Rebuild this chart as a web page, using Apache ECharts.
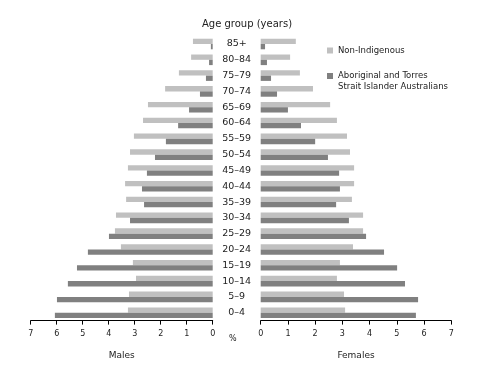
<!DOCTYPE html>
<html>
<head>
<meta charset="utf-8">
<script src="https://cdn.jsdelivr.net/npm/echarts@6/dist/echarts.min.js"></script>
<style>html,body{margin:0;padding:0;background:#fff;}#c{width:478px;height:375px;}</style>
</head>
<body>
<div id="c"></div>
<script>
var ageGroups = ['0–4','5–9','10–14','15–19','20–24','25–29','30–34','35–39','40–44','45–49','50–54','55–59','60–64','65–69','70–74','75–79','80–84','85+'];
var maleNonIndigenous = [3.26,3.22,2.95,3.07,3.53,3.76,3.72,3.33,3.37,3.26,3.18,3.03,2.68,2.49,1.83,1.30,0.83,0.76];
var maleIndigenous    = [6.07,5.99,5.57,5.22,4.80,3.99,3.18,2.64,2.72,2.53,2.22,1.80,1.33,0.91,0.49,0.26,0.14,0.07];
var femaleNonIndigenous = [3.10,3.06,2.80,2.91,3.39,3.76,3.76,3.35,3.43,3.43,3.28,3.17,2.80,2.55,1.92,1.44,1.08,1.29];
var femaleIndigenous    = [5.70,5.78,5.30,5.01,4.53,3.87,3.24,2.77,2.91,2.88,2.47,2.00,1.48,1.00,0.60,0.38,0.23,0.16];
var xTicks = [0,1,2,3,4,5,6,7];
var seriesNames = ['Non-Indigenous', 'Aboriginal and Torres\nStrait Islander Australians'];

var FONT = 'DejaVu Sans';
var lightC = '#c0c0c0', darkC = '#808080';
var chart = echarts.init(document.getElementById('c'), null, {renderer:'canvas'});

function xAxisCfg(idx, inverse, name){
  return {
    type:'value', gridIndex: idx, min: xTicks[0], max: xTicks[xTicks.length-1], interval: 1, inverse: inverse,
    name: name, nameLocation:'middle', nameGap: 31,
    nameTextStyle:{fontFamily:FONT, fontSize:9, color:'#222'},
    axisLine:{show:true, lineStyle:{color:'#000', width:1}},
    axisTick:{show:true, length:4, lineStyle:{color:'#000'}},
    axisLabel:{fontFamily:FONT, fontSize:8, color:'#222', margin:9},
    splitLine:{show:false}
  };
}
function barS(name, data, color, xi, yi){
  return {type:'bar', name:name, data:data, xAxisIndex:xi, yAxisIndex:yi,
    barGap:'0%', barCategoryGap:'33%', itemStyle:{color:color}, silent:true};
}

chart.setOption({
  animation:false,
  title:{text:'Age group (years)', left:242, top:14, textAlign:'center',
    textStyle:{fontFamily:FONT, fontSize:10, fontWeight:'normal', color:'#222'}},
  legend:{orient:'vertical', left:327, top:45, padding:0, itemWidth:6, itemHeight:6, itemGap:3.5,
    icon:'rect', selectedMode:false,
    textStyle:{fontFamily:FONT, fontSize:8.5, color:'#222', lineHeight:11},
    formatter:function(name){ return name === seriesNames[1] ? '\n' + name : name; },
    data:[{name:seriesNames[0]}, {name:seriesNames[1]}]},
  grid:[
    {left:30.7, right:265.3, top:36.1, bottom:54.4},
    {left:260.7, right:26.7, top:36.1, bottom:54.4}
  ],
  xAxis:[ xAxisCfg(0, true, 'Males'), xAxisCfg(1, false, 'Females') ],
  yAxis:[
    {type:'category', gridIndex:0, data:ageGroups, position:'right',
     axisLine:{show:false}, axisTick:{show:false},
     axisLabel:{fontFamily:FONT, fontSize:9.5, color:'#222', align:'center', margin:24, interval:0}},
    {type:'category', gridIndex:1, data:ageGroups,
     axisLine:{show:false}, axisTick:{show:false}, axisLabel:{show:false}}
  ],
  graphic:[{type:'text', left:229, top:335, style:{text:'%', font:'8px "DejaVu Sans"', fill:'#222'}}],
  series:[
    barS(seriesNames[0], maleNonIndigenous, lightC, 0, 0),
    barS(seriesNames[1], maleIndigenous, darkC, 0, 0),
    barS(seriesNames[0], femaleNonIndigenous, lightC, 1, 1),
    barS(seriesNames[1], femaleIndigenous, darkC, 1, 1)
  ]
});
</script>
</body>
</html>
